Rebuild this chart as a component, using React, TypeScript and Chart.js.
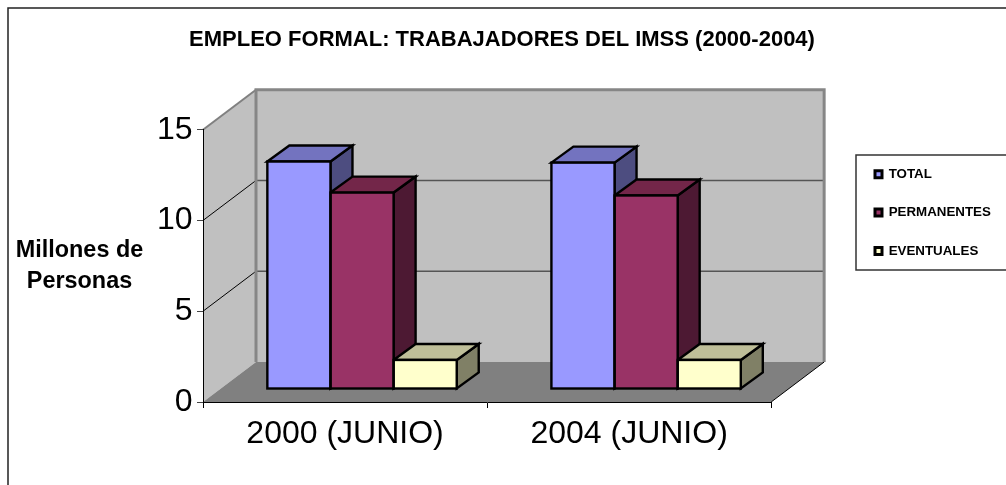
import React, { useEffect, useRef } from "react";
import { Chart, registerables } from "chart.js";

Chart.register(...registerables);

const titleText = "EMPLEO FORMAL: TRABAJADORES DEL IMSS (2000-2004)";
const yAxisLabel = ["Millones de", "Personas"];
const categories = ["2000 (JUNIO)", "2004 (JUNIO)"];
const total = [12.53, 12.47];
const permanentes = [10.82, 10.66];
const eventuales = [1.6, 1.6];
const seriesNames = ["TOTAL", "PERMANENTES", "EVENTUALES"];
const frontColors = ["#9999ff", "#993366", "#ffffcc"];
const topColors = ["#7373bf", "#732649", "#bfbf99"];
const sideColors = ["#4d4d80", "#4d1933", "#808066"];

const FONT = "'Liberation Sans', Arial, sans-serif";
const WALL = { dx: 53, dy: 40 };
const BAR_OFFSET = { dx: 17, dy: 13 };
const BAR_DEPTH = { dx: 22, dy: 16 };
const BAR_STROKE = 2.4;

function poly(ctx: CanvasRenderingContext2D, pts: number[][]) {
  ctx.beginPath();
  pts.forEach((p, i) => (i ? ctx.lineTo(p[0], p[1]) : ctx.moveTo(p[0], p[1])));
  ctx.closePath();
}

function line(ctx: CanvasRenderingContext2D, pts: number[][], color: string, width: number) {
  ctx.beginPath();
  pts.forEach((p, i) => (i ? ctx.lineTo(p[0], p[1]) : ctx.moveTo(p[0], p[1])));
  ctx.strokeStyle = color;
  ctx.lineWidth = width;
  ctx.stroke();
}

const scene3d = {
  id: "scene3d",
  afterLayout(chart: any) {
    const lg = chart.legend;
    const w = lg.width;
    const h = lg.height;
    lg.left = 850;
    lg.right = 850 + w;
    lg.top = 142.6;
    lg.bottom = 142.6 + h;
    const tb = chart.titleBlock;
    tb.left = 0;
    tb.right = 1004;
    tb.width = 1004;
  },
  beforeDraw(chart: any) {
    const ctx: CanvasRenderingContext2D = chart.ctx;
    const { left, right, top, bottom } = chart.chartArea;
    const { dx, dy } = WALL;
    ctx.save();
    ctx.fillStyle = "#ffffff";
    ctx.fillRect(0, 0, chart.width, chart.height);

    // outer frame (runs off the picture on the right and at the bottom)
    ctx.strokeStyle = "#222222";
    ctx.lineWidth = 1.5;
    ctx.strokeRect(8, 8, chart.width + 20, chart.height + 20);

    // legend frame
    ctx.strokeStyle = "#333333";
    ctx.lineWidth = 1.5;
    ctx.strokeRect(856, 155, chart.width, 115);

    // walls and floor
    ctx.fillStyle = "#c0c0c0";
    ctx.fillRect(left + dx, top - dy, right - left, bottom - top);
    poly(ctx, [[left, bottom], [left + dx, bottom - dy], [left + dx, top - dy], [left, top]]);
    ctx.fill();
    ctx.fillStyle = "#808080";
    poly(ctx, [[left, bottom], [right, bottom], [right + dx, bottom - dy], [left + dx, bottom - dy]]);
    ctx.fill();

    // gridlines
    const yScale = chart.scales.y;
    yScale.ticks.forEach((t: any) => {
      if (t.value === 0 || t.value === yScale.max) return;
      const y = yScale.getPixelForValue(t.value);
      line(ctx, [[left, y], [left + dx, y - dy]], "#000000", 1);
      line(ctx, [[left + dx, y - dy], [right + dx, y - dy]], "#555555", 1.5);
    });

    // wall edges
    line(ctx, [[left, top], [left + dx, top - dy]], "#808080", 2);
    line(ctx, [[left + dx, bottom - dy], [left + dx, top - dy], [right + dx, top - dy], [right + dx, bottom - dy]], "#868686", 3);
    line(ctx, [[right, bottom], [right + dx, bottom - dy]], "#000000", 1);

    // value axis caption
    ctx.fillStyle = "#000000";
    ctx.font = `bold 23.4px ${FONT}`;
    ctx.textAlign = "center";
    ctx.textBaseline = "middle";
    ctx.fillText(yAxisLabel[0], 79.5, 251);
    ctx.fillText(yAxisLabel[1], 79.5, 282);
    ctx.restore();
  },
  beforeDatasetsDraw(chart: any) {
    const ctx: CanvasRenderingContext2D = chart.ctx;
    const { dx, dy } = BAR_DEPTH;
    ctx.save();
    ctx.lineJoin = "miter";
    chart.data.datasets.forEach((_: any, i: number) => {
      chart.getDatasetMeta(i).data.forEach((bar: any) => {
        const l = bar.x - bar.width / 2 + BAR_OFFSET.dx;
        const r = bar.x + bar.width / 2 + BAR_OFFSET.dx;
        const t = bar.y - BAR_OFFSET.dy;
        const b = bar.base - BAR_OFFSET.dy;
        ctx.lineWidth = BAR_STROKE;
        ctx.strokeStyle = "#000000";
        poly(ctx, [[r, t], [r + dx, t - dy], [r + dx, b - dy], [r, b]]);
        ctx.fillStyle = sideColors[i];
        ctx.fill();
        ctx.stroke();
        poly(ctx, [[l, t], [l + dx, t - dy], [r + dx, t - dy], [r, t]]);
        ctx.fillStyle = topColors[i];
        ctx.fill();
        ctx.stroke();
      });
    });
    ctx.restore();
  },
  beforeDatasetDraw(chart: any) {
    chart.ctx.save();
    chart.ctx.translate(BAR_OFFSET.dx, -BAR_OFFSET.dy);
  },
  afterDatasetDraw(chart: any) {
    chart.ctx.restore();
  },
  afterDatasetsDraw(chart: any) {
    const ctx: CanvasRenderingContext2D = chart.ctx;
    ctx.save();
    ctx.lineWidth = BAR_STROKE;
    ctx.strokeStyle = "#000000";
    chart.data.datasets.forEach((_: any, i: number) => {
      chart.getDatasetMeta(i).data.forEach((bar: any) => {
        ctx.strokeRect(
          bar.x - bar.width / 2 + BAR_OFFSET.dx,
          bar.y - BAR_OFFSET.dy,
          bar.width,
          bar.base - bar.y
        );
      });
    });
    ctx.restore();
  },
};

export default function App() {
  const ref = useRef<HTMLCanvasElement>(null);
  useEffect(() => {
    if (!ref.current) return;
    const seriesValues = [total, permanentes, eventuales];
    const chart = new Chart(ref.current, {
      type: "bar",
      data: {
        labels: categories,
        datasets: seriesNames.map((name, i) => ({
          label: name,
          data: seriesValues[i],
          backgroundColor: frontColors[i],
          borderWidth: 0,
          categoryPercentage: 2 / 3,
          barPercentage: 1,
          clip: false as any,
        })),
      },
      options: {
        responsive: false,
        animation: false,
        events: [],
        layout: { padding: { left: 0, right: 84, top: 0, bottom: 0 } },
        plugins: {
          tooltip: { enabled: false },
          title: {
            display: true,
            text: titleText,
            color: "#000000",
            font: { family: FONT, size: 22, weight: "bold", lineHeight: 1.2 },
            padding: { top: 26.5, bottom: 76.8 },
          },
          legend: {
            display: true,
            position: "right",
            align: "start",
            labels: {
              boxWidth: 7,
              boxHeight: 7,
              padding: 25,
              color: "#000000",
              font: { family: FONT, size: 13.33, weight: "bold" },
              generateLabels: () =>
                seriesNames.map((name, i) => ({
                  text: name,
                  fillStyle: frontColors[i],
                  strokeStyle: "#000000",
                  lineWidth: 3,
                  datasetIndex: i,
                  hidden: false,
                })),
            },
          },
        },
        scales: {
          x: {
            afterFit: (s: any) => {
              s.height = 83;
            },
            grid: { drawOnChartArea: false, color: "#000000", tickLength: 6, offset: true },
            border: { color: "#000000", width: 1 },
            ticks: { color: "#000000", padding: 7, maxRotation: 0, font: { family: FONT, size: 32 } },
          },
          y: {
            min: 0,
            max: 15,
            afterFit: (s: any) => {
              s.width = 203;
            },
            grid: { drawOnChartArea: false, color: "#444444", tickLength: 6 },
            border: { color: "#000000", width: 1 },
            ticks: { stepSize: 5, color: "#000000", padding: 4.5, font: { family: FONT, size: 32 } },
          },
        },
      },
      plugins: [scene3d as any],
    });
    return () => chart.destroy();
  }, []);
  return (
    <div style={{ position: "absolute", left: 0, top: 0, width: 1006, height: 485 }}>
      <canvas ref={ref} width={1006} height={485} style={{ display: "block" }} />
    </div>
  );
}
